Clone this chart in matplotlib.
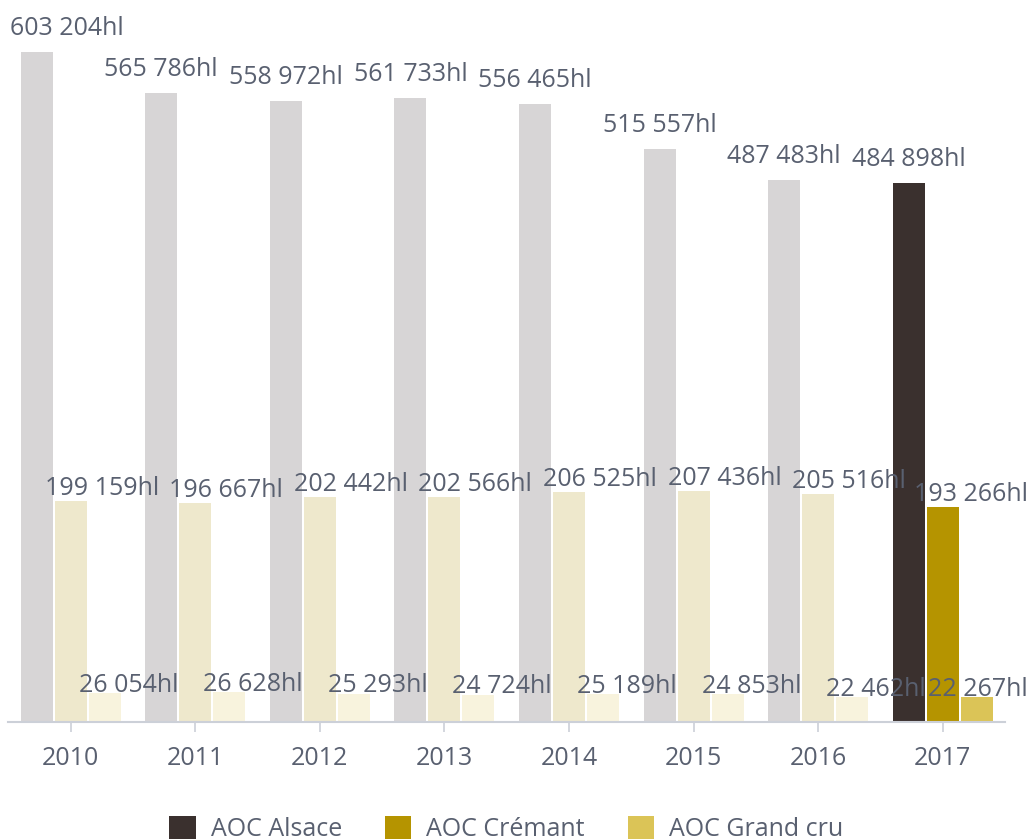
import matplotlib
matplotlib.use("Agg")
import matplotlib.pyplot as plt
from matplotlib.patches import Patch
import numpy as np

years = ["2010", "2011", "2012", "2013", "2014", "2015", "2016", "2017"]
series_names = ["AOC Alsace", "AOC Crémant", "AOC Grand cru"]
alsace = [603204, 565786, 558972, 561733, 556465, 515557, 487483, 484898]
cremant = [199159, 196667, 202442, 202566, 206525, 207436, 205516, 193266]
grand_cru = [26054, 26628, 25293, 24724, 25189, 24853, 22462, 22267]

colors_full = ["#3a302e", "#b59400", "#dbc457"]
colors_pale = ["#d7d5d6", "#eee8cc", "#f8f3dd"]
text_color = "#596070"

plt.rcParams["font.family"] = ["Open Sans", "DejaVu Sans"]

W, H = 1031, 840
fig = plt.figure(figsize=(W / 100, H / 100), dpi=100)
ax = fig.add_axes([8.4 / W, 118 / H, 996.6 / W, 689 / H])

data = [alsace, cremant, grand_cru]
x = np.arange(len(years))
bw = 0.257
step = 0.273
fs = 18

def fmt(v):
    return f"{v:,}".replace(",", " ") + "hl"

texts = []
for s, vals in enumerate(data):
    off = (s - 1) * step
    cols = [colors_pale[s]] * (len(years) - 1) + [colors_full[s]]
    bars = ax.bar(x + off, vals, width=bw, color=cols, linewidth=0, zorder=2)
    for i, (b, v) in enumerate(zip(bars, vals)):
        top = b.get_height()
        if s == 0:
            t = ax.annotate(fmt(v), xy=(b.get_x() + b.get_width() / 2, top),
                            xytext=(0, 17), textcoords="offset pixels",
                            ha="center", va="baseline", fontsize=fs,
                            color=text_color, zorder=3)
        else:
            dy = 6 if s == 1 else 1.5
            t = ax.annotate(fmt(v), xy=(b.get_x(), top),
                            xytext=(-10, dy), textcoords="offset pixels",
                            ha="left", va="baseline", fontsize=fs,
                            color=text_color, zorder=3)
        texts.append(t)

ax.set_xlim(-0.5, len(years) - 0.5)
ax.set_ylim(0, 620000)
ax.set_xticks(x)
ax.set_xticklabels(years, fontsize=fs, color=text_color)
ax.tick_params(axis="x", length=7, width=1.2, color="#ccd0d8", pad=10)
ax.tick_params(axis="y", left=False, labelleft=False)
for sp in ["top", "right", "left"]:
    ax.spines[sp].set_visible(False)
ax.spines["bottom"].set_color("#ccd0d8")
ax.spines["bottom"].set_linewidth(1.5)

# keep labels inside the figure
fig.canvas.draw()
r = fig.canvas.get_renderer()
for t in texts:
    bb = t.get_window_extent(r)
    shift = 0
    if bb.x1 > W - 3:
        shift = (W - 3) - bb.x1
    elif bb.x0 < 10:
        shift = 10 - bb.x0
    if shift:
        ox, oy = t.xyann
        t.xyann = (ox + shift, oy)

handles = [Patch(facecolor=c, edgecolor="none") for c in colors_full]
fig.legend(handles, series_names, loc="lower center", bbox_to_anchor=(0.491, -0.002),
           ncol=3, frameon=False, fontsize=fs, handlelength=1.05, handleheight=1.05,
           handletextpad=0.6, columnspacing=1.72, borderpad=0, borderaxespad=0,
           labelcolor=text_color)

fig.savefig("out.png", dpi=100)
